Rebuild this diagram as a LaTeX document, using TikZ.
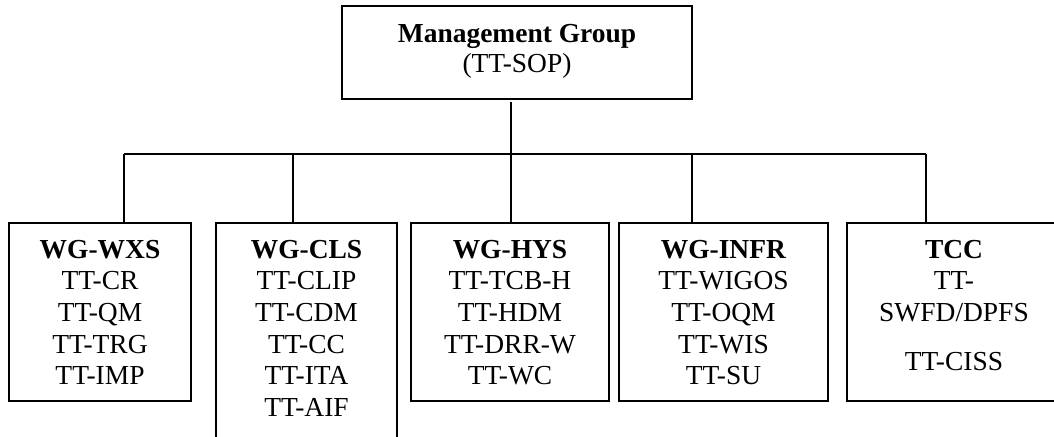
\documentclass[tikz,border=0pt]{standalone}
\usepackage{fontspec}
\setmainfont{Liberation Serif}
\newcommand{\grplist}[1]{\begin{tabular}[t]{@{}c@{}}#1\end{tabular}}

\begin{document}
\begin{tikzpicture}[x=0.75pt,y=0.75pt,yscale=-1,xscale=1,
  grp/.style={draw, line width=1.2pt, anchor=north west, inner sep=0pt, outer sep=0pt,
    font=\fontsize{20.6}{23.8}\selectfont, text height=26.25pt, text depth=107.25pt},
  link/.style={line width=1pt}]
\useasboundingbox (0,0) rectangle (1054,436);
% top box
\node[grp, minimum width=262.5pt, text height=27pt, text depth=42.75pt,
  font=\fontsize{20.6}{22.5}\selectfont] (mg) at (342,6)
  {\grplist{\textbf{Management Group}\\(TT-SOP)}};
% working groups
\node[grp, minimum width=136.5pt] (wxs) at (9,223)
  {\grplist{\textbf{WG-WXS}\\TT-CR\\TT-QM\\TT-TRG\\TT-IMP}};
\node[grp, minimum width=135.75pt, text depth=142pt] (cls) at (216,223)
  {\grplist{\textbf{WG-CLS}\\TT-CLIP\\TT-CDM\\TT-CC\\TT-ITA\\TT-AIF}};
\node[grp, minimum width=148.5pt] (hys) at (411,223)
  {\grplist{\textbf{WG-HYS}\\TT-TCB-H\\TT-HDM\\TT-DRR-W\\TT-WC}};
\node[grp, minimum width=156.75pt] (infr) at (619,223)
  {\grplist{\textbf{WG-INFR}\\TT-WIGOS\\TT-OQM\\TT-WIS\\TT-SU}};
\node[grp, minimum width=160.5pt] (tcc) at (847,223)
  {\grplist{\textbf{TCC}\\TT-\\SWFD/DPFS\\[13pt]TT-CISS}};
% bus
\coordinate (top) at (511,154);
\coordinate (j1) at (124,154);
\coordinate (j2) at (293,154);
\coordinate (j3) at (511,154);
\coordinate (j4) at (692,154);
\coordinate (j5) at (926,154);
\draw[link, shorten <=2.25pt] (mg.south -| top) -- (top);
\draw[link] (j1) -- (j5);
\foreach \j/\n in {j1/wxs, j2/cls, j3/hys, j4/infr, j5/tcc}
  \draw[link] (\j) -- (\j |- \n.north);
\end{tikzpicture}
\end{document}
